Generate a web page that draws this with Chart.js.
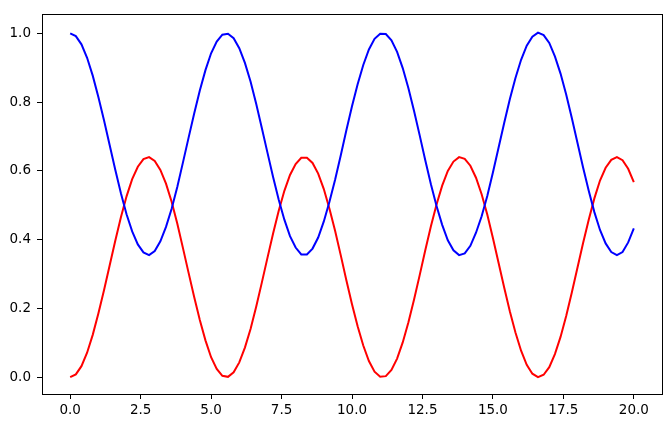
<!DOCTYPE html>
<html>
<head>
<meta charset="utf-8">
<script src="https://cdn.jsdelivr.net/npm/chart.js@4"></script>
<style>
  html, body { margin: 0; padding: 0; background: #fff; }
  #wrap { width: 671px; height: 428px; }
</style>
</head>
<body>
<div id="wrap"><canvas id="chart" width="671" height="428"></canvas></div>
<script>
// ==================== DATA ====================
// sample times: 0 .. 20, step 0.2
const tStep = 0.2;
const tCount = 101;
const times = Array.from({ length: tCount }, (_, i) => +(i * tStep).toFixed(1));

// blue curve (starts at 1)
const blueValues = [
    1.000, 0.992, 0.968, 0.929, 0.877, 0.815, 0.747, 0.675, 0.603, 0.535,
    0.474, 0.424, 0.386, 0.363, 0.355, 0.367, 0.395, 0.437, 0.490, 0.553,
    0.624, 0.696, 0.767, 0.834, 0.893, 0.942, 0.976, 0.996, 0.999, 0.986,
    0.957, 0.914, 0.860, 0.795, 0.725, 0.653, 0.582, 0.516, 0.458, 0.410,
    0.377, 0.357, 0.357, 0.374, 0.406, 0.453, 0.510, 0.574, 0.645, 0.718,
    0.788, 0.852, 0.908, 0.953, 0.984, 0.999, 0.998, 0.980, 0.946, 0.899,
    0.841, 0.775, 0.704, 0.631, 0.561, 0.498, 0.443, 0.398, 0.369, 0.355,
    0.360, 0.382, 0.420, 0.468, 0.527, 0.595, 0.667, 0.739, 0.808, 0.870,
    0.923, 0.964, 0.990, 1.002, 0.995, 0.972, 0.933, 0.883, 0.822, 0.754,
    0.682, 0.610, 0.542, 0.480, 0.428, 0.389, 0.364, 0.355, 0.364, 0.392,
    0.433
];

// red curve (starts at 0)
const redValues = [
    0.000, 0.008, 0.032, 0.071, 0.123, 0.185, 0.253, 0.325, 0.397, 0.465,
    0.526, 0.576, 0.612, 0.634, 0.640, 0.629, 0.603, 0.563, 0.510, 0.447,
    0.376, 0.304, 0.233, 0.166, 0.107, 0.058, 0.024, 0.004, 0.001, 0.014,
    0.043, 0.086, 0.140, 0.205, 0.275, 0.347, 0.418, 0.484, 0.542, 0.588,
    0.620, 0.638, 0.638, 0.623, 0.592, 0.547, 0.490, 0.426, 0.355, 0.282,
    0.212, 0.148, 0.092, 0.047, 0.016, 0.001, 0.003, 0.021, 0.054, 0.101,
    0.159, 0.225, 0.296, 0.369, 0.439, 0.502, 0.557, 0.600, 0.627, 0.640,
    0.635, 0.615, 0.580, 0.532, 0.473, 0.405, 0.333, 0.261, 0.192, 0.130,
    0.077, 0.036, 0.010, 0.000, 0.007, 0.029, 0.067, 0.117, 0.178, 0.246,
    0.318, 0.390, 0.458, 0.520, 0.572, 0.609, 0.632, 0.640, 0.631, 0.606,
    0.567
];

const xTicks = [0, 2.5, 5, 7.5, 10, 12.5, 15, 17.5, 20];
const yTicks = [0, 0.2, 0.4, 0.6, 0.8, 1.0];

// ==================== CHART ====================
const toPoints = vals => vals.map((v, i) => ({ x: times[i], y: v }));

// full box around the plot area (matplotlib spines)
const frame = {
    id: "frame",
    afterDraw(chart) {
        const { ctx, chartArea: a } = chart;
        ctx.save();
        ctx.strokeStyle = "#000";
        ctx.lineWidth = 1;
        ctx.strokeRect(Math.round(a.left) + 0.5, Math.round(a.top) + 0.5,
            Math.round(a.right - a.left), Math.round(a.bottom - a.top));
        ctx.restore();
    }
};

const tickFont = { family: "DejaVu Sans", size: 13.5 };

new Chart(document.getElementById("chart").getContext("2d"), {
    type: "line",
    data: {
        datasets: [
            { data: toPoints(blueValues), borderColor: "blue", borderWidth: 2, pointRadius: 0, tension: 0 },
            { data: toPoints(redValues), borderColor: "red", borderWidth: 2, pointRadius: 0, tension: 0 }
        ]
    },
    options: {
        responsive: false,
        animation: false,
        layout: { padding: { left: 0, top: 9, right: 9, bottom: 0 } },
        plugins: { legend: { display: false }, tooltip: { enabled: false } },
        scales: {
            x: {
                type: "linear",
                min: -1,
                max: 21,
                afterBuildTicks: s => { s.ticks = xTicks.map(v => ({ value: v })); },
                afterFit: s => { s.height = 34; },
                grid: { drawOnChartArea: false, drawTicks: true, tickLength: 5, color: "#000" },
                border: { display: true, color: "#000" },
                ticks: { color: "#000", font: tickFont, padding: 3, maxRotation: 0,
                    callback: v => v.toFixed(1) }
            },
            y: {
                type: "linear",
                min: -0.049,
                max: 1.056,
                afterBuildTicks: s => { s.ticks = yTicks.map(v => ({ value: v })); },
                afterFit: s => { s.width = 42; },
                grid: { drawOnChartArea: false, drawTicks: true, tickLength: 5, color: "#000" },
                border: { display: true, color: "#000" },
                ticks: { color: "#000", font: tickFont, padding: 6,
                    callback: v => v.toFixed(1) }
            }
        }
    },
    plugins: [frame]
});
</script>
</body>
</html>
